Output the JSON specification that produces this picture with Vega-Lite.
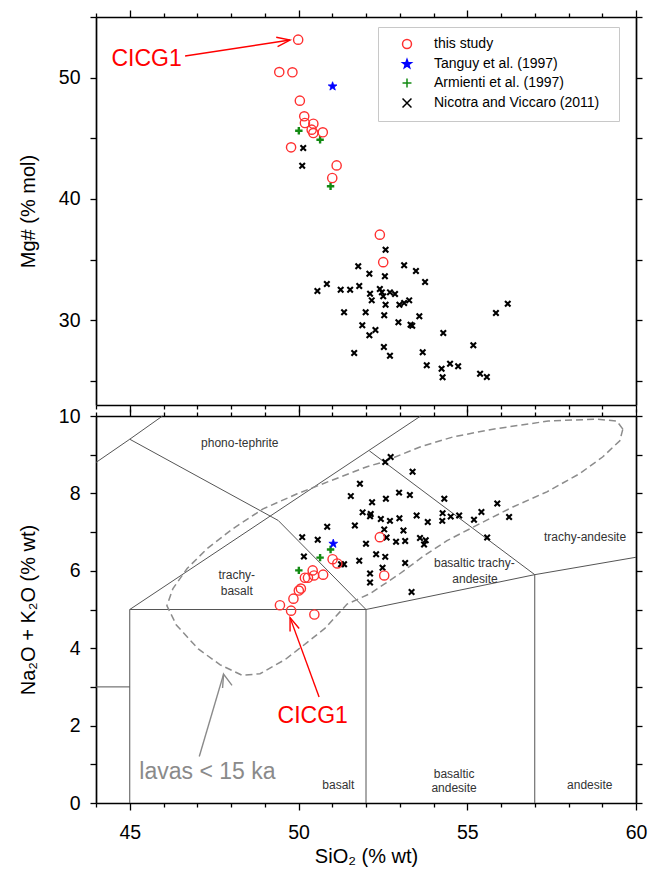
{
  "$schema": "https://vega.github.io/schema/vega-lite/v6.json",
  "padding": {"left": 18, "top": 7, "right": 14, "bottom": 8},
  "spacing": 11,
  "bounds": "flush",
  "config": {
    "view": {"stroke": null},
    "font": "Liberation Sans",
    "axis": {
      "grid": false,
      "domainColor": "#000",
      "domainWidth": 1.7,
      "tickColor": "#000",
      "tickWidth": 1.3,
      "labelFont": "Liberation Sans",
      "labelFontSize": 19.5,
      "labelColor": "#000",
      "labelOverlap": false,
      "labelFlush": false,
      "titleFont": "Liberation Sans",
      "titleFontSize": 20,
      "titleFontWeight": "normal",
      "titleColor": "#000"
    },
    "legend": {"symbolSize": 80, "symbolStrokeWidth": 1.5}
  },
  "datasets": {
    "mg": [
      {"source": "Nicotra and Viccaro (2011)", "sio2": 50.14, "mg": 44.20},
      {"source": "Nicotra and Viccaro (2011)", "sio2": 50.11, "mg": 42.74},
      {"source": "Nicotra and Viccaro (2011)", "sio2": 52.58, "mg": 35.81},
      {"source": "Nicotra and Viccaro (2011)", "sio2": 51.77, "mg": 34.44},
      {"source": "Nicotra and Viccaro (2011)", "sio2": 53.13, "mg": 34.52},
      {"source": "Nicotra and Viccaro (2011)", "sio2": 52.10, "mg": 33.83},
      {"source": "Nicotra and Viccaro (2011)", "sio2": 53.48, "mg": 34.05},
      {"source": "Nicotra and Viccaro (2011)", "sio2": 52.56, "mg": 33.61},
      {"source": "Nicotra and Viccaro (2011)", "sio2": 53.75, "mg": 33.14},
      {"source": "Nicotra and Viccaro (2011)", "sio2": 50.84, "mg": 32.98},
      {"source": "Nicotra and Viccaro (2011)", "sio2": 50.56, "mg": 32.40},
      {"source": "Nicotra and Viccaro (2011)", "sio2": 51.25, "mg": 32.51},
      {"source": "Nicotra and Viccaro (2011)", "sio2": 51.53, "mg": 32.51},
      {"source": "Nicotra and Viccaro (2011)", "sio2": 51.80, "mg": 32.81},
      {"source": "Nicotra and Viccaro (2011)", "sio2": 52.12, "mg": 32.18},
      {"source": "Nicotra and Viccaro (2011)", "sio2": 52.41, "mg": 32.57},
      {"source": "Nicotra and Viccaro (2011)", "sio2": 52.47, "mg": 32.29},
      {"source": "Nicotra and Viccaro (2011)", "sio2": 52.17, "mg": 31.63},
      {"source": "Nicotra and Viccaro (2011)", "sio2": 52.71, "mg": 32.29},
      {"source": "Nicotra and Viccaro (2011)", "sio2": 52.86, "mg": 32.15},
      {"source": "Nicotra and Viccaro (2011)", "sio2": 52.58, "mg": 31.27},
      {"source": "Nicotra and Viccaro (2011)", "sio2": 52.99, "mg": 31.27},
      {"source": "Nicotra and Viccaro (2011)", "sio2": 53.13, "mg": 31.41},
      {"source": "Nicotra and Viccaro (2011)", "sio2": 53.28, "mg": 31.63},
      {"source": "Nicotra and Viccaro (2011)", "sio2": 52.51, "mg": 31.96},
      {"source": "Nicotra and Viccaro (2011)", "sio2": 51.35, "mg": 30.65},
      {"source": "Nicotra and Viccaro (2011)", "sio2": 51.99, "mg": 30.65},
      {"source": "Nicotra and Viccaro (2011)", "sio2": 52.54, "mg": 30.40},
      {"source": "Nicotra and Viccaro (2011)", "sio2": 53.58, "mg": 30.32},
      {"source": "Nicotra and Viccaro (2011)", "sio2": 52.96, "mg": 29.82},
      {"source": "Nicotra and Viccaro (2011)", "sio2": 51.89, "mg": 29.57},
      {"source": "Nicotra and Viccaro (2011)", "sio2": 53.32, "mg": 29.62},
      {"source": "Nicotra and Viccaro (2011)", "sio2": 53.37, "mg": 29.54},
      {"source": "Nicotra and Viccaro (2011)", "sio2": 52.28, "mg": 29.19},
      {"source": "Nicotra and Viccaro (2011)", "sio2": 52.10, "mg": 28.75},
      {"source": "Nicotra and Viccaro (2011)", "sio2": 54.29, "mg": 28.94},
      {"source": "Nicotra and Viccaro (2011)", "sio2": 52.53, "mg": 27.78},
      {"source": "Nicotra and Viccaro (2011)", "sio2": 51.65, "mg": 27.29},
      {"source": "Nicotra and Viccaro (2011)", "sio2": 52.71, "mg": 27.07},
      {"source": "Nicotra and Viccaro (2011)", "sio2": 55.18, "mg": 27.92},
      {"source": "Nicotra and Viccaro (2011)", "sio2": 53.68, "mg": 27.35},
      {"source": "Nicotra and Viccaro (2011)", "sio2": 53.80, "mg": 26.27},
      {"source": "Nicotra and Viccaro (2011)", "sio2": 54.49, "mg": 26.41},
      {"source": "Nicotra and Viccaro (2011)", "sio2": 54.73, "mg": 26.19},
      {"source": "Nicotra and Viccaro (2011)", "sio2": 54.24, "mg": 25.99},
      {"source": "Nicotra and Viccaro (2011)", "sio2": 54.27, "mg": 25.28},
      {"source": "Nicotra and Viccaro (2011)", "sio2": 55.38, "mg": 25.58},
      {"source": "Nicotra and Viccaro (2011)", "sio2": 55.58, "mg": 25.31},
      {"source": "Nicotra and Viccaro (2011)", "sio2": 55.85, "mg": 30.59},
      {"source": "Nicotra and Viccaro (2011)", "sio2": 56.20, "mg": 31.35},
      {"source": "Armienti et al. (1997)", "sio2": 50.01, "mg": 45.62},
      {"source": "Armienti et al. (1997)", "sio2": 50.64, "mg": 44.88},
      {"source": "Armienti et al. (1997)", "sio2": 50.95, "mg": 41.04},
      {"source": "Tanguy et al. (1997)", "sio2": 51.01, "mg": 49.28},
      {"source": "this study", "sio2": 49.99, "mg": 53.13},
      {"source": "this study", "sio2": 49.43, "mg": 50.46},
      {"source": "this study", "sio2": 49.82, "mg": 50.44},
      {"source": "this study", "sio2": 50.04, "mg": 48.10},
      {"source": "this study", "sio2": 50.17, "mg": 46.81},
      {"source": "this study", "sio2": 50.19, "mg": 46.26},
      {"source": "this study", "sio2": 50.44, "mg": 46.20},
      {"source": "this study", "sio2": 50.39, "mg": 45.71},
      {"source": "this study", "sio2": 50.44, "mg": 45.43},
      {"source": "this study", "sio2": 50.72, "mg": 45.49},
      {"source": "this study", "sio2": 49.78, "mg": 44.25},
      {"source": "this study", "sio2": 51.13, "mg": 42.76},
      {"source": "this study", "sio2": 51.00, "mg": 41.72},
      {"source": "this study", "sio2": 52.41, "mg": 37.05},
      {"source": "this study", "sio2": 52.51, "mg": 34.78}
    ],
    "tas": [
      {"source": "Nicotra and Viccaro (2011)", "sio2": 52.73, "alk": 8.94},
      {"source": "Nicotra and Viccaro (2011)", "sio2": 52.57, "alk": 8.81},
      {"source": "Nicotra and Viccaro (2011)", "sio2": 53.38, "alk": 8.56},
      {"source": "Nicotra and Viccaro (2011)", "sio2": 51.82, "alk": 8.25},
      {"source": "Nicotra and Viccaro (2011)", "sio2": 51.55, "alk": 7.93},
      {"source": "Nicotra and Viccaro (2011)", "sio2": 52.18, "alk": 7.77},
      {"source": "Nicotra and Viccaro (2011)", "sio2": 52.59, "alk": 7.86},
      {"source": "Nicotra and Viccaro (2011)", "sio2": 52.98, "alk": 8.02},
      {"source": "Nicotra and Viccaro (2011)", "sio2": 53.30, "alk": 7.96},
      {"source": "Nicotra and Viccaro (2011)", "sio2": 54.32, "alk": 7.86},
      {"source": "Nicotra and Viccaro (2011)", "sio2": 55.89, "alk": 7.74},
      {"source": "Nicotra and Viccaro (2011)", "sio2": 51.90, "alk": 7.51},
      {"source": "Nicotra and Viccaro (2011)", "sio2": 52.14, "alk": 7.47},
      {"source": "Nicotra and Viccaro (2011)", "sio2": 52.12, "alk": 7.41},
      {"source": "Nicotra and Viccaro (2011)", "sio2": 52.44, "alk": 7.34},
      {"source": "Nicotra and Viccaro (2011)", "sio2": 52.71, "alk": 7.29},
      {"source": "Nicotra and Viccaro (2011)", "sio2": 52.99, "alk": 7.36},
      {"source": "Nicotra and Viccaro (2011)", "sio2": 53.50, "alk": 7.43},
      {"source": "Nicotra and Viccaro (2011)", "sio2": 53.83, "alk": 7.26},
      {"source": "Nicotra and Viccaro (2011)", "sio2": 54.27, "alk": 7.49},
      {"source": "Nicotra and Viccaro (2011)", "sio2": 54.26, "alk": 7.29},
      {"source": "Nicotra and Viccaro (2011)", "sio2": 54.51, "alk": 7.40},
      {"source": "Nicotra and Viccaro (2011)", "sio2": 54.76, "alk": 7.43},
      {"source": "Nicotra and Viccaro (2011)", "sio2": 55.20, "alk": 7.32},
      {"source": "Nicotra and Viccaro (2011)", "sio2": 55.42, "alk": 7.52},
      {"source": "Nicotra and Viccaro (2011)", "sio2": 56.24, "alk": 7.39},
      {"source": "Nicotra and Viccaro (2011)", "sio2": 50.85, "alk": 7.14},
      {"source": "Nicotra and Viccaro (2011)", "sio2": 51.67, "alk": 7.17},
      {"source": "Nicotra and Viccaro (2011)", "sio2": 52.54, "alk": 7.07},
      {"source": "Nicotra and Viccaro (2011)", "sio2": 53.11, "alk": 7.04},
      {"source": "Nicotra and Viccaro (2011)", "sio2": 50.11, "alk": 6.87},
      {"source": "Nicotra and Viccaro (2011)", "sio2": 50.57, "alk": 6.80},
      {"source": "Nicotra and Viccaro (2011)", "sio2": 52.61, "alk": 6.86},
      {"source": "Nicotra and Viccaro (2011)", "sio2": 52.89, "alk": 6.75},
      {"source": "Nicotra and Viccaro (2011)", "sio2": 53.16, "alk": 6.77},
      {"source": "Nicotra and Viccaro (2011)", "sio2": 53.60, "alk": 6.85},
      {"source": "Nicotra and Viccaro (2011)", "sio2": 53.77, "alk": 6.79},
      {"source": "Nicotra and Viccaro (2011)", "sio2": 53.72, "alk": 6.68},
      {"source": "Nicotra and Viccaro (2011)", "sio2": 55.59, "alk": 6.86},
      {"source": "Nicotra and Viccaro (2011)", "sio2": 52.00, "alk": 6.70},
      {"source": "Nicotra and Viccaro (2011)", "sio2": 52.30, "alk": 6.43},
      {"source": "Nicotra and Viccaro (2011)", "sio2": 52.57, "alk": 6.36},
      {"source": "Nicotra and Viccaro (2011)", "sio2": 50.16, "alk": 6.37},
      {"source": "Nicotra and Viccaro (2011)", "sio2": 51.80, "alk": 6.26},
      {"source": "Nicotra and Viccaro (2011)", "sio2": 51.26, "alk": 6.17},
      {"source": "Nicotra and Viccaro (2011)", "sio2": 51.35, "alk": 6.17},
      {"source": "Nicotra and Viccaro (2011)", "sio2": 53.16, "alk": 6.20},
      {"source": "Nicotra and Viccaro (2011)", "sio2": 52.49, "alk": 6.08},
      {"source": "Nicotra and Viccaro (2011)", "sio2": 52.12, "alk": 5.93},
      {"source": "Nicotra and Viccaro (2011)", "sio2": 52.12, "alk": 5.70},
      {"source": "Nicotra and Viccaro (2011)", "sio2": 53.35, "alk": 5.45},
      {"source": "Armienti et al. (1997)", "sio2": 50.01, "alk": 6.01},
      {"source": "Armienti et al. (1997)", "sio2": 50.64, "alk": 6.34},
      {"source": "Armienti et al. (1997)", "sio2": 50.95, "alk": 6.55},
      {"source": "Tanguy et al. (1997)", "sio2": 51.03, "alk": 6.70},
      {"source": "this study", "sio2": 49.78, "alk": 4.97},
      {"source": "this study", "sio2": 49.45, "alk": 5.11},
      {"source": "this study", "sio2": 49.85, "alk": 5.28},
      {"source": "this study", "sio2": 50.01, "alk": 5.49},
      {"source": "this study", "sio2": 50.07, "alk": 5.54},
      {"source": "this study", "sio2": 50.19, "alk": 5.82},
      {"source": "this study", "sio2": 50.28, "alk": 5.82},
      {"source": "this study", "sio2": 50.46, "alk": 5.88},
      {"source": "this study", "sio2": 50.42, "alk": 6.01},
      {"source": "this study", "sio2": 50.73, "alk": 5.90},
      {"source": "this study", "sio2": 50.47, "alk": 4.87},
      {"source": "this study", "sio2": 51.01, "alk": 6.30},
      {"source": "this study", "sio2": 51.15, "alk": 6.19},
      {"source": "this study", "sio2": 52.41, "alk": 6.87},
      {"source": "this study", "sio2": 52.54, "alk": 5.88}
    ],
    "tas_lines": [
      {"seg": "s1", "ord": 0, "sio2": 45, "alk": 0}, {"seg": "s1", "ord": 1, "sio2": 45, "alk": 5},
      {"seg": "s2", "ord": 0, "sio2": 45, "alk": 5}, {"seg": "s2", "ord": 1, "sio2": 52, "alk": 5},
      {"seg": "s3", "ord": 0, "sio2": 52, "alk": 0}, {"seg": "s3", "ord": 1, "sio2": 52, "alk": 5},
      {"seg": "s4", "ord": 0, "sio2": 52, "alk": 5}, {"seg": "s4", "ord": 1, "sio2": 57, "alk": 5.9},
      {"seg": "s5", "ord": 0, "sio2": 57, "alk": 0}, {"seg": "s5", "ord": 1, "sio2": 57, "alk": 5.9},
      {"seg": "s6", "ord": 0, "sio2": 57, "alk": 5.9}, {"seg": "s6", "ord": 1, "sio2": 60, "alk": 6.35},
      {"seg": "s7", "ord": 0, "sio2": 44, "alk": 3}, {"seg": "s7", "ord": 1, "sio2": 45, "alk": 3},
      {"seg": "s8", "ord": 0, "sio2": 45, "alk": 5}, {"seg": "s8", "ord": 1, "sio2": 53.62, "alk": 10},
      {"seg": "s9", "ord": 0, "sio2": 52.1, "alk": 9.1}, {"seg": "s9", "ord": 1, "sio2": 57, "alk": 5.9},
      {"seg": "s10", "ord": 0, "sio2": 45, "alk": 9.4}, {"seg": "s10", "ord": 1, "sio2": 49.4, "alk": 7.3}, {"seg": "s10", "ord": 2, "sio2": 52, "alk": 5},
      {"seg": "s11", "ord": 0, "sio2": 44, "alk": 8.8}, {"seg": "s11", "ord": 1, "sio2": 45, "alk": 9.4}, {"seg": "s11", "ord": 2, "sio2": 45.97, "alk": 10}
    ],
    "ellipse": [
      {"ord": 0, "sio2": 59.61, "alk": 9.66},
      {"ord": 1, "sio2": 59.43, "alk": 9.87},
      {"ord": 2, "sio2": 58.84, "alk": 9.92},
      {"ord": 3, "sio2": 57.40, "alk": 9.87},
      {"ord": 4, "sio2": 55.76, "alk": 9.66},
      {"ord": 5, "sio2": 54.58, "alk": 9.46},
      {"ord": 6, "sio2": 53.60, "alk": 9.20},
      {"ord": 7, "sio2": 52.50, "alk": 8.81},
      {"ord": 8, "sio2": 52.03, "alk": 8.69},
      {"ord": 9, "sio2": 50.93, "alk": 8.32},
      {"ord": 10, "sio2": 49.96, "alk": 7.99},
      {"ord": 11, "sio2": 48.95, "alk": 7.60},
      {"ord": 12, "sio2": 48.06, "alk": 7.09},
      {"ord": 13, "sio2": 47.29, "alk": 6.57},
      {"ord": 14, "sio2": 46.70, "alk": 6.06},
      {"ord": 15, "sio2": 46.28, "alk": 5.54},
      {"ord": 16, "sio2": 46.10, "alk": 5.10},
      {"ord": 17, "sio2": 46.38, "alk": 4.60},
      {"ord": 18, "sio2": 47.03, "alk": 3.98},
      {"ord": 19, "sio2": 47.68, "alk": 3.57},
      {"ord": 20, "sio2": 48.33, "alk": 3.30},
      {"ord": 21, "sio2": 48.86, "alk": 3.34},
      {"ord": 22, "sio2": 49.61, "alk": 3.71},
      {"ord": 23, "sio2": 50.26, "alk": 4.15},
      {"ord": 24, "sio2": 50.79, "alk": 4.52},
      {"ord": 25, "sio2": 51.44, "alk": 5.14},
      {"ord": 26, "sio2": 52.12, "alk": 5.41},
      {"ord": 27, "sio2": 53.01, "alk": 5.93},
      {"ord": 28, "sio2": 53.69, "alk": 6.37},
      {"ord": 29, "sio2": 54.40, "alk": 6.78},
      {"ord": 30, "sio2": 55.38, "alk": 7.22},
      {"ord": 31, "sio2": 56.35, "alk": 7.65},
      {"ord": 32, "sio2": 57.36, "alk": 8.04},
      {"ord": 33, "sio2": 58.33, "alk": 8.51},
      {"ord": 34, "sio2": 59.01, "alk": 8.94},
      {"ord": 35, "sio2": 59.52, "alk": 9.36},
      {"ord": 36, "sio2": 59.61, "alk": 9.66}
    ],
    "tas_labels": [
      {"label": "phono-tephrite", "sio2": 48.26, "alk": 9.30},
      {"label": "trachy-", "sio2": 48.17, "alk": 5.90},
      {"label": "basalt", "sio2": 48.17, "alk": 5.47},
      {"label": "basaltic trachy-", "sio2": 55.21, "alk": 6.19},
      {"label": "andesite", "sio2": 55.23, "alk": 5.80},
      {"label": "trachy-andesite", "sio2": 58.49, "alk": 6.87},
      {"label": "basalt", "sio2": 51.18, "alk": 0.47},
      {"label": "basaltic", "sio2": 54.61, "alk": 0.75},
      {"label": "andesite", "sio2": 54.61, "alk": 0.40},
      {"label": "andesite", "sio2": 58.63, "alk": 0.47}
    ],
    "big_labels": [
      {"label": "lavas < 15 ka", "sio2": 47.3, "alk": 0.81},
      {"label": "CICG1", "sio2": 50.42, "alk": 2.26}
    ],
    "arrows": [
      {"arrow": "red", "seg": "r1", "ord": 0, "sio2": 50.61, "alk": 2.74},
      {"arrow": "red", "seg": "r1", "ord": 1, "sio2": 49.75, "alk": 4.79},
      {"arrow": "red", "seg": "r2", "ord": 0, "sio2": 49.75, "alk": 4.43},
      {"arrow": "red", "seg": "r2", "ord": 1, "sio2": 49.75, "alk": 4.79},
      {"arrow": "red", "seg": "r2", "ord": 2, "sio2": 50.02, "alk": 4.51},
      {"arrow": "gray", "seg": "g1", "ord": 0, "sio2": 47.06, "alk": 1.20},
      {"arrow": "gray", "seg": "g1", "ord": 1, "sio2": 47.78, "alk": 3.33},
      {"arrow": "gray", "seg": "g2", "ord": 0, "sio2": 47.75, "alk": 2.97},
      {"arrow": "gray", "seg": "g2", "ord": 1, "sio2": 47.78, "alk": 3.33},
      {"arrow": "gray", "seg": "g2", "ord": 2, "sio2": 48.03, "alk": 3.04}
    ],
    "arrow_top": [
      {"seg": "t1", "ord": 0, "sio2": 46.64, "mg": 51.78},
      {"seg": "t1", "ord": 1, "sio2": 49.75, "mg": 53.10},
      {"seg": "t2", "ord": 0, "sio2": 49.34, "mg": 53.33},
      {"seg": "t2", "ord": 1, "sio2": 49.75, "mg": 53.10},
      {"seg": "t2", "ord": 2, "sio2": 49.38, "mg": 52.55}
    ],
    "label_top": [
      {"label": "CICG1", "sio2": 45.5, "mg": 51.5}
    ]
  },
  "resolve": {"scale": {"shape": "independent", "fill": "independent", "stroke": "independent"}},
  "vconcat": [
    {
      "width": 540,
      "height": 388,
      "layer": [
        {
          "data": {"name": "mg"},
          "mark": {"type": "point", "opacity": 1},
          "encoding": {
            "x": {"field": "sio2", "type": "quantitative", "scale": {"domain": [44, 60], "nice": false, "zero": false},
              "axis": {"orient": "bottom", "values": [44,45,46,47,48,49,50,51,52,53,54,55,56,57,58,59,60], "labels": false, "title": null,
                "tickSize": {"condition": {"test": "datum.value % 5 === 0", "value": 7}, "value": 4}}},
            "y": {"field": "mg", "type": "quantitative", "scale": {"domain": [23, 55], "nice": false, "zero": false},
              "axis": {"orient": "left", "values": [25,30,35,40,45,50,55], "labelExpr": "datum.value % 10 === 0 ? datum.label : ''",
                "tickSize": 6, "labelPadding": 10, "title": "Mg# (% mol)", "titlePadding": 20}},
            "shape": {"field": "source", "type": "nominal", "title": "\u2003",
              "scale": {"domain": ["this study", "Tanguy et al. (1997)", "Armienti et al. (1997)", "Nicotra and Viccaro (2011)"],
                "range": ["circle", "M0,-1L0.235,-0.324L0.951,-0.309L0.38,0.124L0.588,0.809L0,0.4L-0.588,0.809L-0.38,0.124L-0.951,-0.309L-0.235,-0.324Z", "M-1,0L1,0M0,-1L0,1", "M-1,-1L1,1M-1,1L1,-1"]},
              "legend": {"orient": "none", "legendX": 282, "legendY": 10, "strokeColor": "#c8c8c8", "fillColor": "#ffffff", "padding": 10, "symbolOffset": 12,
                "labelFontSize": 14, "labelFont": "Liberation Sans", "labelColor": "#000", "rowPadding": 4, "labelOffset": 20, "labelLimit": 400,
                "titleOrient": "right", "titleFontSize": 14, "titlePadding": 10}},
            "fill": {"field": "source", "type": "nominal", "title": "\u2003",
              "scale": {"domain": ["this study", "Tanguy et al. (1997)", "Armienti et al. (1997)", "Nicotra and Viccaro (2011)"],
                "range": ["transparent", "#0000ff", "transparent", "transparent"]}},
            "stroke": {"field": "source", "type": "nominal", "title": "\u2003",
              "scale": {"domain": ["this study", "Tanguy et al. (1997)", "Armienti et al. (1997)", "Nicotra and Viccaro (2011)"],
                "range": ["#ff3030", "#0000ff", "#138a13", "#000000"]}},
            "size": {"condition": [
                {"test": "datum.source === 'Nicotra and Viccaro (2011)'", "value": 30},
                {"test": "datum.source === 'Armienti et al. (1997)'", "value": 55},
                {"test": "datum.source === 'Tanguy et al. (1997)'", "value": 85}], "value": 85},
            "strokeWidth": {"condition": [
                {"test": "datum.source === 'Nicotra and Viccaro (2011)'", "value": 2.1},
                {"test": "datum.source === 'Armienti et al. (1997)'", "value": 2.4},
                {"test": "datum.source === 'Tanguy et al. (1997)'", "value": 0.8}], "value": 1.4}
          }
        },
        {
          "data": {"name": "arrow_top"},
          "mark": {"type": "line", "color": "#ff0000", "strokeWidth": 1.4},
          "encoding": {
            "x": {"field": "sio2", "type": "quantitative",
              "axis": {"orient": "top", "values": [44,45,46,47,48,49,50,51,52,53,54,55,56,57,58,59,60], "labels": false, "title": null,
                "tickSize": {"condition": {"test": "datum.value % 5 === 0", "value": 7}, "value": 4}}},
            "y": {"field": "mg", "type": "quantitative",
              "axis": {"orient": "right", "values": [25,30,35,40,45,50,55], "labels": false, "title": null, "tickSize": 6}},
            "detail": {"field": "seg"},
            "order": {"field": "ord"}
          }
        },
        {
          "data": {"name": "label_top"},
          "mark": {"type": "text", "color": "#ff0000", "fontSize": 23, "font": "Liberation Sans"},
          "encoding": {
            "x": {"field": "sio2", "type": "quantitative", "axis": null},
            "y": {"field": "mg", "type": "quantitative", "axis": null},
            "text": {"field": "label"}
          }
        }
      ],
      "resolve": {"axis": {"x": "independent", "y": "independent"}}
    },
    {
      "width": 540,
      "height": 387,
      "layer": [
        {
          "data": {"name": "tas_lines"},
          "mark": {"type": "line", "color": "#555555", "strokeWidth": 1},
          "encoding": {
            "x": {"field": "sio2", "type": "quantitative", "scale": {"domain": [44, 60], "nice": false, "zero": false},
              "axis": {"orient": "bottom", "values": [44,45,46,47,48,49,50,51,52,53,54,55,56,57,58,59,60],
                "labelExpr": "datum.value % 5 === 0 ? datum.label : ''", "labelPadding": 13,
                "tickSize": {"condition": {"test": "datum.value % 5 === 0", "value": 7}, "value": 4},
                "title": "SiO₂ (% wt)", "titlePadding": 5}},
            "y": {"field": "alk", "type": "quantitative", "scale": {"domain": [0, 10], "nice": false, "zero": false},
              "axis": {"orient": "left", "values": [0,1,2,3,4,5,6,7,8,9,10], "labelExpr": "datum.value % 2 === 0 ? datum.label : ''",
                "tickSize": 6, "labelPadding": 10, "title": "Na₂O + K₂O (% wt)", "titlePadding": 20}},
            "detail": {"field": "seg"},
            "order": {"field": "ord"}
          }
        },
        {
          "data": {"name": "ellipse"},
          "mark": {"type": "line", "color": "#8c8c8c", "strokeWidth": 1.5, "strokeDash": [7, 4]},
          "encoding": {
            "x": {"field": "sio2", "type": "quantitative", "axis": null},
            "y": {"field": "alk", "type": "quantitative", "axis": null},
            "order": {"field": "ord"}
          }
        },
        {
          "data": {"name": "tas"},
          "mark": {"type": "point", "opacity": 1},
          "encoding": {
            "x": {"field": "sio2", "type": "quantitative", "axis": null},
            "y": {"field": "alk", "type": "quantitative", "axis": null},
            "shape": {"field": "source", "type": "nominal", "legend": null,
              "scale": {"domain": ["this study", "Tanguy et al. (1997)", "Armienti et al. (1997)", "Nicotra and Viccaro (2011)"],
                "range": ["circle", "M0,-1L0.235,-0.324L0.951,-0.309L0.38,0.124L0.588,0.809L0,0.4L-0.588,0.809L-0.38,0.124L-0.951,-0.309L-0.235,-0.324Z", "M-1,0L1,0M0,-1L0,1", "M-1,-1L1,1M-1,1L1,-1"]}},
            "fill": {"field": "source", "type": "nominal", "legend": null,
              "scale": {"domain": ["this study", "Tanguy et al. (1997)", "Armienti et al. (1997)", "Nicotra and Viccaro (2011)"],
                "range": ["transparent", "#0000ff", "transparent", "transparent"]}},
            "stroke": {"field": "source", "type": "nominal", "legend": null,
              "scale": {"domain": ["this study", "Tanguy et al. (1997)", "Armienti et al. (1997)", "Nicotra and Viccaro (2011)"],
                "range": ["#ff3030", "#0000ff", "#138a13", "#000000"]}},
            "size": {"condition": [
                {"test": "datum.source === 'Nicotra and Viccaro (2011)'", "value": 30},
                {"test": "datum.source === 'Armienti et al. (1997)'", "value": 55},
                {"test": "datum.source === 'Tanguy et al. (1997)'", "value": 85}], "value": 85},
            "strokeWidth": {"condition": [
                {"test": "datum.source === 'Nicotra and Viccaro (2011)'", "value": 2.1},
                {"test": "datum.source === 'Armienti et al. (1997)'", "value": 2.4},
                {"test": "datum.source === 'Tanguy et al. (1997)'", "value": 0.8}], "value": 1.4}
          }
        },
        {
          "data": {"name": "tas_labels"},
          "mark": {"type": "text", "color": "#333333", "fontSize": 12, "font": "Liberation Sans"},
          "encoding": {
            "x": {"field": "sio2", "type": "quantitative", "axis": null},
            "y": {"field": "alk", "type": "quantitative", "axis": null},
            "text": {"field": "label"}
          }
        },
        {
          "data": {"name": "big_labels"},
          "transform": [{"filter": "datum.label === 'lavas < 15 ka'"}],
          "mark": {"type": "text", "color": "#8a8a8a", "fontSize": 23, "font": "Liberation Sans"},
          "encoding": {
            "x": {"field": "sio2", "type": "quantitative", "axis": null},
            "y": {"field": "alk", "type": "quantitative", "axis": null},
            "text": {"field": "label"}
          }
        },
        {
          "data": {"name": "big_labels"},
          "transform": [{"filter": "datum.label === 'CICG1'"}],
          "mark": {"type": "text", "color": "#ff0000", "fontSize": 23, "font": "Liberation Sans"},
          "encoding": {
            "x": {"field": "sio2", "type": "quantitative", "axis": null},
            "y": {"field": "alk", "type": "quantitative", "axis": null},
            "text": {"field": "label"}
          }
        },
        {
          "data": {"name": "arrows"},
          "transform": [{"filter": "datum.arrow === 'gray'"}],
          "mark": {"type": "line", "color": "#8a8a8a", "strokeWidth": 1.4},
          "encoding": {
            "x": {"field": "sio2", "type": "quantitative", "axis": null},
            "y": {"field": "alk", "type": "quantitative", "axis": null},
            "detail": {"field": "seg"},
            "order": {"field": "ord"}
          }
        },
        {
          "data": {"name": "arrows"},
          "transform": [{"filter": "datum.arrow === 'red'"}],
          "mark": {"type": "line", "color": "#ff0000", "strokeWidth": 1.4},
          "encoding": {
            "x": {"field": "sio2", "type": "quantitative",
              "axis": {"orient": "top", "values": [44,45,46,47,48,49,50,51,52,53,54,55,56,57,58,59,60], "labels": false, "title": null,
                "tickSize": {"condition": {"test": "datum.value % 5 === 0", "value": 7}, "value": 4}}},
            "y": {"field": "alk", "type": "quantitative",
              "axis": {"orient": "right", "values": [0,1,2,3,4,5,6,7,8,9,10], "labels": false, "title": null, "tickSize": 6}},
            "detail": {"field": "seg"},
            "order": {"field": "ord"}
          }
        }
      ],
      "resolve": {"axis": {"x": "independent", "y": "independent"}}
    }
  ]
}
